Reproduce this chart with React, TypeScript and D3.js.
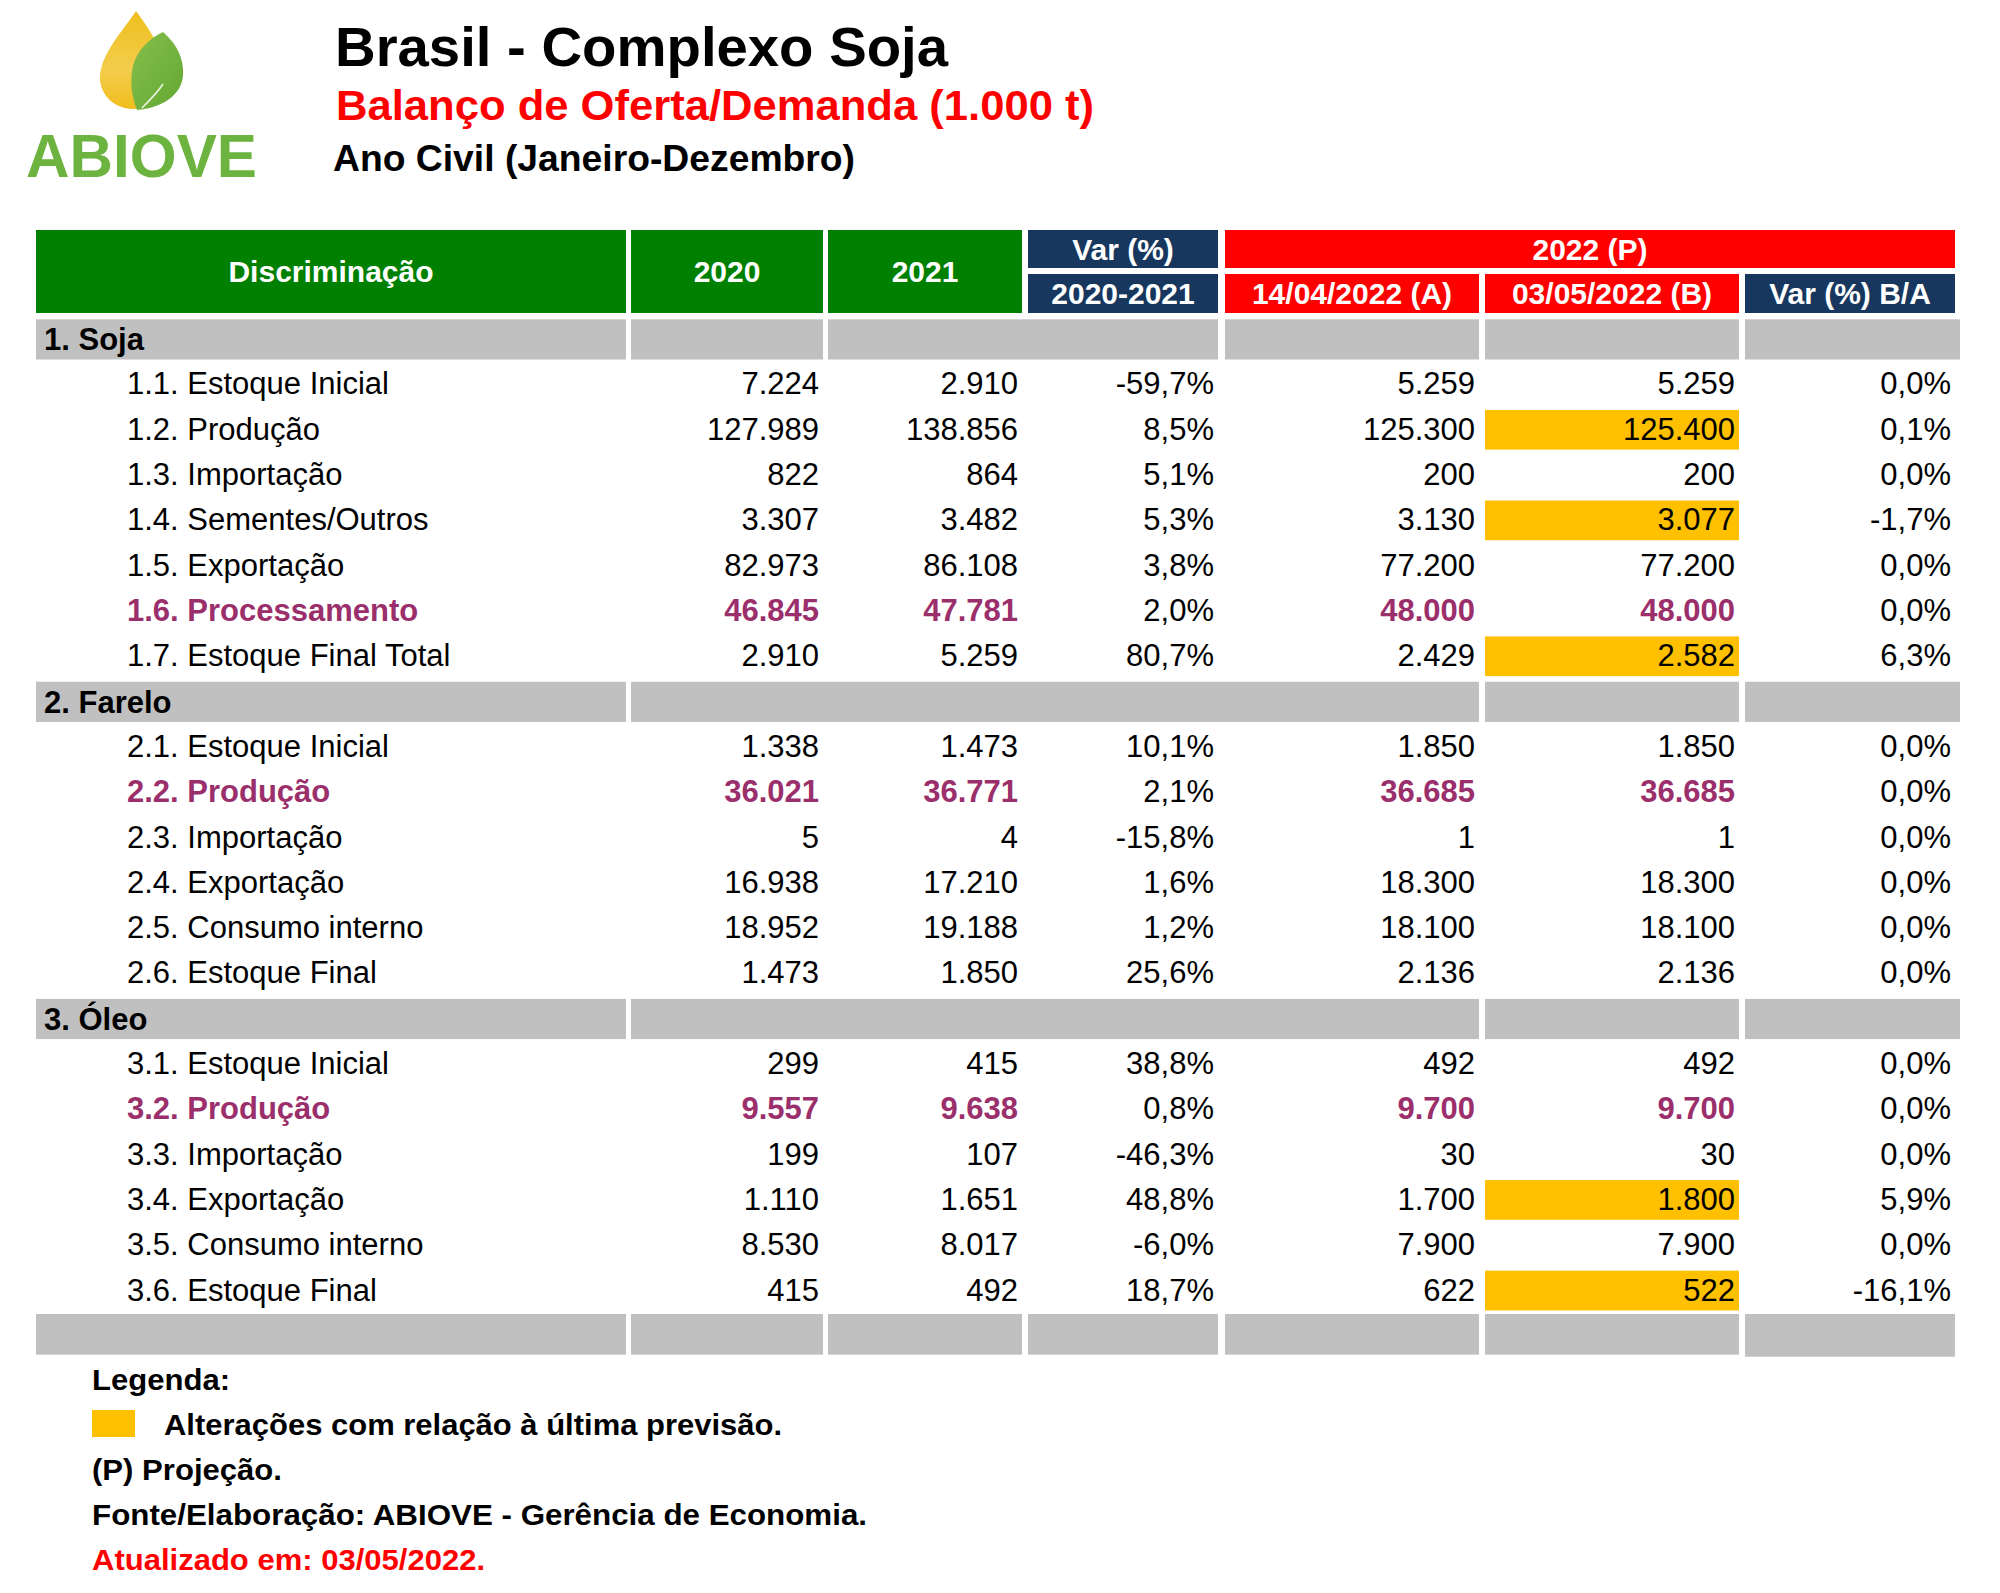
import React from "react";
import * as d3 from "d3";

// ---------- DATA ----------
const sectionNames = ["1. Soja", "2. Farelo", "3. Óleo"];

const itemLabels = [
  "1.1. Estoque Inicial",
  "1.2. Produção",
  "1.3. Importação",
  "1.4. Sementes/Outros",
  "1.5. Exportação",
  "1.6. Processamento",
  "1.7. Estoque Final Total",
  "2.1. Estoque Inicial",
  "2.2. Produção",
  "2.3. Importação",
  "2.4. Exportação",
  "2.5. Consumo interno",
  "2.6. Estoque Final",
  "3.1. Estoque Inicial",
  "3.2. Produção",
  "3.3. Importação",
  "3.4. Exportação",
  "3.5. Consumo interno",
  "3.6. Estoque Final",
];
const itemSection = [0, 0, 0, 0, 0, 0, 0, 1, 1, 1, 1, 1, 1, 2, 2, 2, 2, 2, 2];

const val2020 = [7224, 127989, 822, 3307, 82973, 46845, 2910, 1338, 36021, 5, 16938, 18952, 1473, 299, 9557, 199, 1110, 8530, 415];
const val2021 = [2910, 138856, 864, 3482, 86108, 47781, 5259, 1473, 36771, 4, 17210, 19188, 1850, 415, 9638, 107, 1651, 8017, 492];
const var2021 = [-59.7, 8.5, 5.1, 5.3, 3.8, 2.0, 80.7, 10.1, 2.1, -15.8, 1.6, 1.2, 25.6, 38.8, 0.8, -46.3, 48.8, -6.0, 18.7];
const valA = [5259, 125300, 200, 3130, 77200, 48000, 2429, 1850, 36685, 1, 18300, 18100, 2136, 492, 9700, 30, 1700, 7900, 622];
const valB = [5259, 125400, 200, 3077, 77200, 48000, 2582, 1850, 36685, 1, 18300, 18100, 2136, 492, 9700, 30, 1800, 7900, 522];
const varBA = [0.0, 0.1, 0.0, -1.7, 0.0, 0.0, 6.3, 0.0, 0.0, 0.0, 0.0, 0.0, 0.0, 0.0, 0.0, 0.0, 5.9, 0.0, -16.1];

const changedRows = ["1.2.", "1.4.", "1.7.", "3.4.", "3.6."];
const productionRows = ["1.6.", "2.2.", "3.2."];

const headerTop = ["Discriminação", "2020", "2021", "Var (%)", "2022 (P)"];
const headerSub = ["2020-2021", "14/04/2022 (A)", "03/05/2022 (B)", "Var (%) B/A"];

const legendTitle = "Legenda:";
const legendItem = "Alterações com relação à última previsão.";
const noteProj = "(P) Projeção.";
const noteSource = "Fonte/Elaboração: ABIOVE - Gerência de Economia.";
const noteUpdated = "Atualizado em: 03/05/2022.";

// ---------- STYLE / LAYOUT ----------
const W = 2000;
const H = 1593;
const FONT = "'Liberation Sans', Arial, Helvetica, sans-serif";
const GREEN = "#008000";
const NAVY = "#17375e";
const RED = "#ff0000";
const YELLOW = "#ffc000";
const GRAY = "#c0c0c0";
const PURPLE = "#9b2f6c";

const cols = [
  { x0: 36, x1: 626 },
  { x0: 631, x1: 823 },
  { x0: 828, x1: 1022 },
  { x0: 1028, x1: 1218 },
  { x0: 1225, x1: 1479 },
  { x0: 1485, x1: 1739 },
  { x0: 1745, x1: 1955 },
];

const loc = d3.formatLocale({
  decimal: ",",
  thousands: ".",
  grouping: [3],
  currency: ["", ""],
  minus: "-",
});
const fmtNum = loc.format(",d");
const fmtPctRaw = loc.format(".1f");
const fmtPct = (v: number) => fmtPctRaw(v) + "%";

type Row =
  | { type: "section"; label: string; sec: number }
  | { type: "item"; i: number }
  | { type: "footer" };

function buildRows(): Row[] {
  const rows: Row[] = [];
  sectionNames.forEach((s, si) => {
    rows.push({ type: "section", label: s, sec: si });
    itemLabels.forEach((_, i) => {
      if (itemSection[i] === si) rows.push({ type: "item", i });
    });
  });
  rows.push({ type: "footer" });
  return rows;
}

export default function App() {
  const rows = buildRows();
  const y = d3
    .scaleBand<number>()
    .domain(rows.map((_, i) => i))
    .range([317, 1359])
    .paddingInner(0)
    .paddingOuter(0);
  const bw = y.bandwidth();
  const inset = 2.3;
  const FS = 31;
  const BL = 9.5;

  const sectionSpans = (sec: number): number[][] =>
    sec === 0
      ? [[0], [1], [2, 3], [4], [5], [6]]
      : [[0], [1, 2, 3, 4], [5], [6]];

  const cells: React.ReactNode[] = [];
  rows.forEach((r, ri) => {
    const top = y(ri)!;
    const cy = top + bw / 2;
    if (r.type === "section") {
      sectionSpans(r.sec).forEach((span, k) => {
        const x0 = cols[span[0]].x0;
        let x1 = cols[span[span.length - 1]].x1;
        if (span[span.length - 1] === 6) x1 = 1960;
        cells.push(
          <rect key={`s${ri}-${k}`} x={x0} y={top + inset} width={x1 - x0} height={bw - 2 * inset - 0.5} fill={GRAY} />
        );
      });
      cells.push(
        <text key={`sl${ri}`} x={44} y={cy + 10.5} fontSize={FS} fontWeight="bold" fill="#000">
          {r.label}
        </text>
      );
    } else if (r.type === "footer") {
      cols.forEach((c, k) => {
        cells.push(
          <rect key={`f${k}`} x={c.x0} y={top + inset - 2} width={c.x1 - c.x0} height={bw - 2 * inset + (k === 6 ? 2 : 0)} fill={GRAY} />
        );
      });
    } else {
      const i = r.i;
      const code = itemLabels[i].split(" ")[0];
      const purple = productionRows.includes(code);
      const changed = changedRows.includes(code);
      const color = purple ? PURPLE : "#000";
      const weight = purple ? "bold" : "normal";
      if (changed) {
        cells.push(
          <rect key={`h${ri}`} x={cols[5].x0} y={top + inset} width={cols[5].x1 - cols[5].x0} height={bw - 2 * inset - 1} fill={YELLOW} />
        );
      }
      cells.push(
        <text key={`l${ri}`} x={127} y={cy + BL} fontSize={FS} fontWeight={weight} fill={color}>
          {itemLabels[i]}
        </text>
      );
      const vals: [string, boolean][] = [
        [fmtNum(val2020[i]), purple],
        [fmtNum(val2021[i]), purple],
        [fmtPct(var2021[i]), false],
        [fmtNum(valA[i]), purple],
        [fmtNum(valB[i]), purple],
        [fmtPct(varBA[i]), false],
      ];
      vals.forEach(([t, p], k) => {
        const c = cols[k + 1];
        cells.push(
          <text
            key={`v${ri}-${k}`}
            x={c.x1 - 4}
            y={cy + BL}
            fontSize={FS}
            textAnchor="end"
            fontWeight={p ? "bold" : "normal"}
            fill={p ? PURPLE : "#000"}
          >
            {t}
          </text>
        );
      });
    }
  });

  // header geometry
  const h1 = { y0: 230, y1: 268 };
  const h2 = { y0: 274, y1: 313 };
  const HFS = 30;
  const hText = (key: string, txt: string, x0: number, x1: number, y0: number, y1: number) => (
    <text key={key} x={(x0 + x1) / 2} y={(y0 + y1) / 2 + 10.5} fontSize={HFS} fontWeight="bold" fill="#fff" textAnchor="middle">
      {txt}
    </text>
  );

  const header = [
    <rect key="hg0" x={cols[0].x0} y={h1.y0} width={cols[0].x1 - cols[0].x0} height={h2.y1 - h1.y0} fill={GREEN} />,
    <rect key="hg1" x={cols[1].x0} y={h1.y0} width={cols[1].x1 - cols[1].x0} height={h2.y1 - h1.y0} fill={GREEN} />,
    <rect key="hg2" x={cols[2].x0} y={h1.y0} width={cols[2].x1 - cols[2].x0} height={h2.y1 - h1.y0} fill={GREEN} />,
    <rect key="hv1" x={cols[3].x0} y={h1.y0} width={cols[3].x1 - cols[3].x0} height={h1.y1 - h1.y0} fill={NAVY} />,
    <rect key="hv2" x={cols[3].x0} y={h2.y0} width={cols[3].x1 - cols[3].x0} height={h2.y1 - h2.y0} fill={NAVY} />,
    <rect key="hr1" x={cols[4].x0} y={h1.y0} width={cols[6].x1 - cols[4].x0} height={h1.y1 - h1.y0} fill={RED} />,
    <rect key="hra" x={cols[4].x0} y={h2.y0} width={cols[4].x1 - cols[4].x0} height={h2.y1 - h2.y0} fill={RED} />,
    <rect key="hrb" x={cols[5].x0} y={h2.y0} width={cols[5].x1 - cols[5].x0} height={h2.y1 - h2.y0} fill={RED} />,
    <rect key="hn" x={cols[6].x0} y={h2.y0} width={cols[6].x1 - cols[6].x0} height={h2.y1 - h2.y0} fill={NAVY} />,
    hText("t0", headerTop[0], cols[0].x0, cols[0].x1, h1.y0, h2.y1),
    hText("t1", headerTop[1], cols[1].x0, cols[1].x1, h1.y0, h2.y1),
    hText("t2", headerTop[2], cols[2].x0, cols[2].x1, h1.y0, h2.y1),
    hText("t3", headerTop[3], cols[3].x0, cols[3].x1, h1.y0, h1.y1),
    hText("t4", headerTop[4], cols[4].x0, cols[6].x1, h1.y0, h1.y1),
    hText("s0", headerSub[0], cols[3].x0, cols[3].x1, h2.y0, h2.y1),
    hText("s1", headerSub[1], cols[4].x0, cols[4].x1, h2.y0, h2.y1),
    hText("s2", headerSub[2], cols[5].x0, cols[5].x1, h2.y0, h2.y1),
    hText("s3", headerSub[3], cols[6].x0, cols[6].x1, h2.y0, h2.y1),
  ];

  return (
    <svg
      width={W}
      height={H}
      viewBox={`0 0 ${W} ${H}`}
      style={{ position: "absolute", left: 0, top: 0, display: "block", background: "#fff" }}
      fontFamily={FONT}
    >
      <defs>
        <linearGradient id="yel" x1="0" y1="0" x2="0" y2="1">
          <stop offset="0" stopColor="#eebf1e" />
          <stop offset="0.6" stopColor="#f3cd4c" />
          <stop offset="1" stopColor="#efbd1c" />
        </linearGradient>
        <linearGradient id="grn" x1="0" y1="0" x2="1" y2="1">
          <stop offset="0" stopColor="#86bf4a" />
          <stop offset="1" stopColor="#63a734" />
        </linearGradient>
      </defs>
      <rect x={0} y={0} width={W} height={H} fill="#fff" />

      {/* Logo */}
      <path
        d="M136,11 C150,30 164,50 164,75 C164,95 150,109 133,109 C115,109 100,95 100,78 C100,55 122,32 136,11 Z"
        fill="url(#yel)"
      />
      <path
        d="M163,32 C178,45 184,60 183,75 C182,95 162,108 137,110 C131,95 130,80 133,66 C137,50 150,38 163,32 Z"
        fill="url(#grn)"
      />
      <path d="M142,108 C150,100 158,92 163,84" stroke="#ffffff" strokeWidth={1.6} fill="none" opacity={0.85} />
      <text x={26} y={177} fontSize={61} fontWeight="bold" fill="#6cb33f" textLength={231} lengthAdjust="spacingAndGlyphs">
        ABIOVE
      </text>

      {/* Titles */}
      <text x={335} y={66} fontSize={55} fontWeight="bold" fill="#000" textLength={613} lengthAdjust="spacingAndGlyphs">
        Brasil - Complexo Soja
      </text>
      <text x={336} y={120} fontSize={43} fontWeight="bold" fill={RED} textLength={758} lengthAdjust="spacingAndGlyphs">
        Balanço de Oferta/Demanda (1.000 t)
      </text>
      <text x={333} y={171} fontSize={37} fontWeight="bold" fill="#000" textLength={522} lengthAdjust="spacingAndGlyphs">
        Ano Civil (Janeiro-Dezembro)
      </text>

      {header}
      {cells}

      {/* Legend */}
      <g fontSize={29} fontWeight="bold">
        <text x={92} y={1390} fill="#000" textLength={138} lengthAdjust="spacingAndGlyphs">{legendTitle}</text>
        <rect x={92} y={1410} width={43} height={27} fill={YELLOW} />
        <text x={164} y={1435} fill="#000" textLength={618} lengthAdjust="spacingAndGlyphs">{legendItem}</text>
        <text x={92} y={1480} fill="#000" textLength={190} lengthAdjust="spacingAndGlyphs">{noteProj}</text>
        <text x={92} y={1525} fill="#000" textLength={775} lengthAdjust="spacingAndGlyphs">{noteSource}</text>
        <text x={92} y={1570} fill={RED} textLength={393} lengthAdjust="spacingAndGlyphs">{noteUpdated}</text>
      </g>
    </svg>
  );
}
